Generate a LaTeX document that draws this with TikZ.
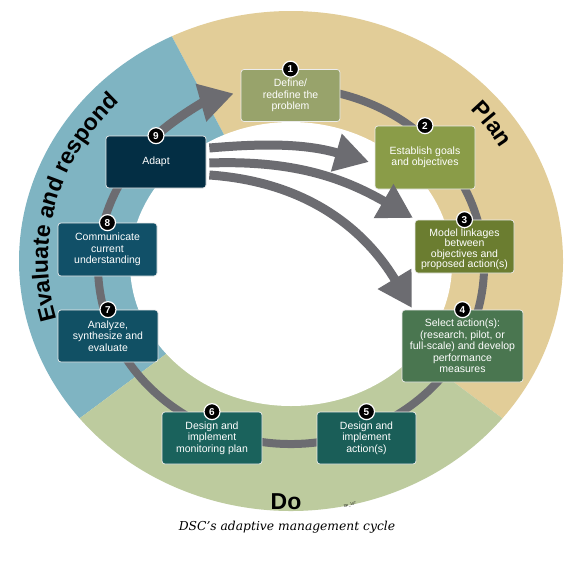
\documentclass[tikz,border=0pt]{standalone}
\usepackage{fontspec}
\setmainfont{Liberation Sans}
\newfontfamily\capfont{DejaVu Serif}
\usepackage{tikz}
\usetikzlibrary{arrows.meta,decorations.text}

\definecolor{plancol}{RGB}{226,205,152}
\definecolor{evalcol}{RGB}{127,180,194}
\definecolor{docol}{RGB}{189,203,158}
\definecolor{trackcol}{RGB}{108,108,113}
\definecolor{boxone}{RGB}{152,163,107}
\definecolor{boxtwo}{RGB}{138,156,72}
\definecolor{boxthree}{RGB}{107,125,48}
\definecolor{boxfour}{RGB}{74,118,80}
\definecolor{boxfive}{RGB}{26,94,88}
\definecolor{boxsix}{RGB}{26,98,92}
\definecolor{boxseven}{RGB}{17,80,100}
\definecolor{boxeight}{RGB}{17,80,104}
\definecolor{boxnine}{RGB}{3,46,68}
\newcommand{\phasefont}{\bfseries\fontsize{23}{23}\selectfont}

\begin{document}
\begin{tikzpicture}[x=1pt,y=1pt,
        stepbox/.style={draw=white!85!gray, line width=0.7pt, rounded corners=3pt, text=white,
            align=center, inner sep=0pt, font=\fontsize{10.5}{11.4}\selectfont},
        badge/.style={circle, fill=black, draw=white, line width=1.2pt, text=white, inner sep=0pt,
            minimum size=16pt, font=\bfseries\fontsize{10}{10}\selectfont},
        track/.style={draw=trackcol, line width=8pt},
        flow/.style={draw=trackcol, line width=9pt, -{Triangle[width=37pt,length=34pt]}},
        phase/.style={font=\phasefont}]
            \fill[white] (0,0) rectangle (577,-575);
            \useasboundingbox (0,0) rectangle (577,-575);
            \begin{scope}[shift={(291,-261)}]
                \fill[plancol] (0,0) -- (-39:272pt and 250pt) arc[start angle=-39, end angle=116, x radius=272pt, y radius=250pt] -- cycle;
                \fill[evalcol] (0,0) -- (116:272pt and 250pt) arc[start angle=116, end angle=219, x radius=272pt, y radius=250pt] -- cycle;
                \fill[docol] (0,0) -- (219:272pt and 250pt) arc[start angle=219, end angle=321, x radius=272pt, y radius=250pt] -- cycle;
            \end{scope}
            \fill[white] (291,-264) ellipse[x radius=161pt, y radius=142pt];
            \begin{scope}[shift={(291,-266)}]
                \draw[track] (100:193pt and 178pt) arc[start angle=100, end angle=-226, x radius=193pt, y radius=178pt];
            \end{scope}
            \begin{scope}[shift={(291,-261)}]
                \path[decorate, decoration={text along path, text={|\phasefont|Evaluate and respond}, text align=center}]
                    (195:243pt and 224pt) arc[start angle=195, end angle=135, x radius=243pt, y radius=224pt];
                \path[decorate, decoration={text along path, text={|\phasefont|Plan}, text align=center}]
                    (60:243pt and 224pt) arc[start angle=60, end angle=12, x radius=243pt, y radius=224pt];
            \end{scope}
            \node[phase] (dolabel) at (286,-502) {Do};
            \node[stepbox, fill=boxone, minimum width=99pt, minimum height=52pt] (define) at (290.5,-95.5) {Define/\\redefine the\\problem};
            \node[stepbox, fill=boxtwo, minimum width=100pt, minimum height=63pt] (goals) at (425,-157.5) {Establish goals\\and objectives};
            \node[stepbox, fill=boxthree, minimum width=99pt, minimum height=53pt, font=\fontsize{10.5}{10.2}\selectfont] (model) at (464.5,-246.5) {\rule{0pt}{13pt}Model linkages\\between\\objectives and\\proposed action(s)};
            \node[stepbox, fill=boxfour, minimum width=121pt, minimum height=72pt] (select) at (462.5,-346) {Select action(s):\\(research, pilot, or\\full-scale) and develop\\performance\\measures};
            \node[stepbox, fill=boxfive, minimum width=99pt, minimum height=52pt] (act) at (366.5,-438) {Design and\\implement\\action(s)};
            \node[stepbox, fill=boxsix, minimum width=100pt, minimum height=52pt] (monitor) at (212,-438) {Design and\\implement\\monitoring plan};
            \node[stepbox, fill=boxseven, minimum width=100pt, minimum height=52pt] (analyze) at (108,-336) {Analyze,\\synthesize and\\evaluate};
            \node[stepbox, fill=boxeight, minimum width=99pt, minimum height=53pt] (communicate) at (107.5,-249.5) {Communicate\\current\\understanding};
            \node[stepbox, fill=boxnine, minimum width=100pt, minimum height=52pt] (adapt) at (156,-162) {Adapt};
            \coordinate (tipgoals) at (369,-162);
            \coordinate (tipmodel) at (413,-218);
            \coordinate (tipselect) at (412,-308);
            \draw[flow] (adapt.north) arc[start angle=134, end angle=107, x radius=193pt, y radius=178pt];
            \draw[flow] ([xshift=3pt,yshift=14pt]adapt.east) to[out=5,in=164] (tipgoals);
            \draw[flow] ([xshift=3pt,yshift=-1pt]adapt.east) to[out=2,in=150] (tipmodel);
            \draw[flow] ([xshift=3pt,yshift=-13pt]adapt.east) to[out=-4,in=121] (tipselect);
            \node[badge] (numone) at (define.north) {1};
            \node[badge] (numtwo) at (goals.north) {2};
            \node[badge] (numthree) at (model.north) {3};
            \node[badge] (numfour) at (select.north) {4};
            \node[badge] (numfive) at (act.north) {5};
            \node[badge] (numsix) at (monitor.north) {6};
            \node[badge] (numseven) at (analyze.north) {7};
            \node[badge] (numeight) at (communicate.north) {8};
            \node[badge] (numnine) at (adapt.north) {9};
            \node[font=\capfont\itshape\fontsize{12.3}{12.3}\selectfont] (caption) at (287,-527) {DSC’s adaptive management cycle};
            \node[rotate=18, font=\fontsize{3.5}{4}\selectfont] (code) at (350,-505) {DP\_107};
        \end{tikzpicture}
\end{document}
